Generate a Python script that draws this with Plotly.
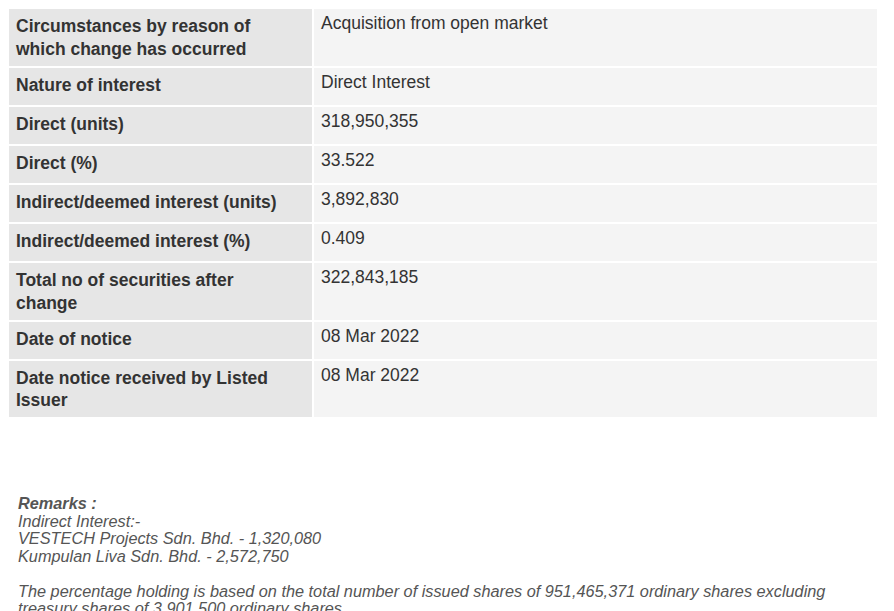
import plotly.graph_objects as go

FIELDS = [
    "Circumstances by reason of<br>which change has occurred",
    "Nature of interest",
    "Direct (units)",
    "Direct (%)",
    "Indirect/deemed interest (units)",
    "Indirect/deemed interest (%)",
    "Total no of securities after<br>change",
    "Date of notice",
    "Date notice received by Listed<br>Issuer",
]
VALUES = [
    "Acquisition from open market",
    "Direct Interest",
    "318,950,355",
    "33.522",
    "3,892,830",
    "0.409",
    "322,843,185",
    "08 Mar 2022",
    "08 Mar 2022",
]
REMARKS = [
    "<b>Remarks :</b>",
    "Indirect Interest:-",
    "VESTECH Projects Sdn. Bhd. - 1,320,080",
    "Kumpulan Liva Sdn. Bhd. - 2,572,750",
    "",
    "The percentage holding is based on the total number of issued shares of 951,465,371 ordinary shares excluding",
    "treasury shares of 3,901,500 ordinary shares.",
]

W, H = 894, 611
fig = go.Figure(go.Table(
    columnwidth=[305, 565],
    header=dict(values=["", ""], height=0, fill_color="white", line=dict(width=0)),
    cells=dict(
        values=[[f"<b>{f}</b>" for f in FIELDS], VALUES],
        fill_color=[["#e6e6e6"] * len(FIELDS), ["#f4f4f4"] * len(VALUES)],
        line=dict(color="white", width=2),
        align="left",
        height=39,
        font=dict(family="Liberation Sans, Arial", size=17.5, color="#333333"),
    ),
    domain=dict(x=[0, 870 / W], y=[1 - 432 / H, 1.0]),
))

# remarks, one annotation per line to keep the tight line spacing
for i, line in enumerate(REMARKS):
    if not line:
        continue
    fig.add_annotation(
        x=8 / W, y=1 - (484 + i * 17.5) / H, xref="paper", yref="paper",
        xanchor="left", yanchor="top", align="left", showarrow=False,
        text=f"<i>{line}</i>",
        font=dict(family="Liberation Sans, Arial", size=16.3, color="#555555"),
    )

fig.update_layout(
    width=W, height=H,
    margin=dict(l=0, r=0, t=0, b=0),
    paper_bgcolor="white", plot_bgcolor="white",
)
fig.write_html("out.html")
